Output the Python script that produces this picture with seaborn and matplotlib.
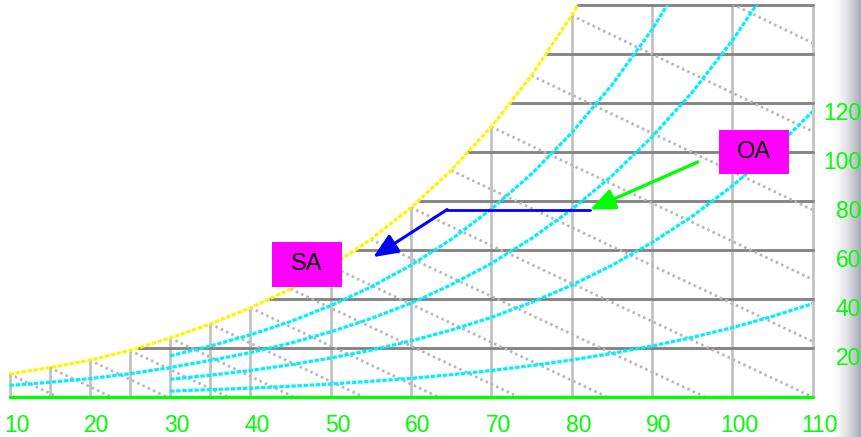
import numpy as np
import pandas as pd
import matplotlib
matplotlib.use("Agg")
import matplotlib.pyplot as plt
import matplotlib.transforms as mtransforms
from matplotlib.patches import Rectangle
import seaborn as sns

# Psychrometric chart: dry-bulb temperature (deg F) vs humidity ratio (grains / lb dry air)

# Saturation curve
sat_T = [10, 15, 20, 25, 30, 35, 40, 45, 50, 55, 60, 65, 70, 75, 80, 85]
sat_W = [9.4, 12.0, 15.0, 19.0, 24.1, 29.8, 36.4, 44.1, 53.4, 64.3, 77.3, 92.5,
         110.3, 131.2, 155.7, 184.2]

# Relative humidity curves
rh_T = [30, 35, 40, 45, 50, 55, 60, 65, 70, 75, 80, 85, 90, 95, 100, 105, 110]
rh10_W = [2.4, 3.0, 3.6, 4.4, 5.3, 6.4, 7.6, 9.1, 10.8, 12.8, 15.1, 17.8, 20.8,
          24.3, 28.3, 32.9, 38.1]
rh30_W = [7.2, 8.9, 10.8, 13.2, 15.9, 19.1, 22.9, 27.3, 32.5, 38.6, 45.6, 53.7,
          63.0, 73.7, 86.1, 100.3, 116.5]
rh50_T = [10, 15, 20, 25, 30, 35, 40, 45, 50, 55, 60, 65, 70, 75, 80, 85, 90, 95,
          100, 105]
rh50_W = [4.7, 6.0, 7.5, 9.5, 12.0, 14.9, 18.1, 22.0, 26.6, 32.0, 38.3, 45.8,
          54.5, 64.7, 76.5, 90.2, 106.1, 124.3, 145.4, 169.6]
rh70_T = [30, 35, 40, 45, 50, 55, 60, 65, 70, 75, 80, 85, 90, 95]
rh70_W = [16.8, 20.8, 25.4, 30.8, 37.3, 44.9, 53.8, 64.3, 76.7, 91.0, 107.8,
          127.3, 149.9, 176.2]

# Constant wet-bulb lines: start on saturation, end on the chart border
wb_T = [10, 15, 20, 25, 30, 35, 40, 45, 50, 55, 60, 65, 70, 75, 80, 85]
wb_end_T = [16.0, 22.7, 29.6, 37.2, 45.4, 54.1, 63.4, 73.4, 84.4, 96.6, 110,
            110, 110, 110, 110, 110]
wb_end_W = [0, 0, 0, 0, 0, 0, 0, 0, 0, 0, 0, 22.7, 48.0, 76.4, 108.4, 144.5]

# Grid: dry-bulb verticals (up to saturation) and humidity-ratio horizontals
vgrid_T = [10, 15, 20, 25, 30, 35, 40, 50, 60, 70, 80, 90, 100, 110]
vgrid_top = [9.4, 12.0, 15.0, 19.0, 24.1, 29.8, 36.4, 53.4, 77.3, 110.3, 155.7,
             160, 160, 160]
hgrid_W = [20, 40, 60, 80, 100, 120, 140, 160]
hgrid_start = [25.9, 42.4, 53.1, 61.0, 67.1, 72.4, 76.8, 80.8]

x_ticks = [10, 20, 30, 40, 50, 60, 70, 80, 90, 100, 110]
y_ticks = [20, 40, 60, 80, 100, 120]

# Air-handling process: outside air -> cooled -> supply air
proc_T = [82.3, 64.5, 55.3]
proc_W = [76.5, 76.5, 57.1]
oa_label = (102.7, 100.0)
sa_label = (47.05, 54.1)
oa_arrow_from = (95.7, 95.9)

T_MIN, T_MAX, W_MAX = 10, 110, 160

sns.set_style("white")
plt.rcParams["font.family"] = ["Liberation Sans", "DejaVu Sans"]

fig = plt.figure(figsize=(8.62, 4.37), dpi=100)

# shaded panel edge on the right
edge = fig.add_axes([832 / 862, 0, 30 / 862, 1], zorder=-5)
t = np.linspace(0, 1, 200) ** 1.6
white = np.array([1.0, 1.0, 1.0])
grey = np.array([0.64, 0.64, 0.70])
ramp = white[None, :] * (1 - t[:, None]) + grey[None, :] * t[:, None]
edge.imshow(ramp[None, :, :], aspect="auto", extent=(0, 1, 0, 1))
edge.set_axis_off()

ax = fig.add_axes([9.5 / 862, 40 / 437, 803 / 862, 392 / 437])
ax.set_facecolor("none")


def segments(starts, ends):
    rows = []
    for i, (a, b) in enumerate(zip(starts, ends)):
        rows.append({"id": i, "T": a[0], "W": a[1]})
        rows.append({"id": i, "T": b[0], "W": b[1]})
    return pd.DataFrame(rows)


# vertical dry-bulb lines
vdf = segments([(tv, 0) for tv in vgrid_T], list(zip(vgrid_T, vgrid_top)))
sns.lineplot(data=vdf, x="T", y="W", units="id", estimator=None, sort=False,
             color="#c0c0c0", lw=1.9, ax=ax, legend=False, clip_on=False)

# horizontal humidity-ratio lines
hdf = segments(list(zip(hgrid_start, hgrid_W)), [(T_MAX, w) for w in hgrid_W])
sns.lineplot(data=hdf, x="T", y="W", units="id", estimator=None, sort=False,
             color="#858585", lw=2.1, ax=ax, legend=False, clip_on=False)

# wet-bulb lines
wdf = segments(list(zip(wb_T, sat_W)), list(zip(wb_end_T, wb_end_W)))
sns.lineplot(data=wdf, x="T", y="W", units="id", estimator=None, sort=False,
             color="#b8b8b8", lw=2.0, linestyle=(0, (0.9, 1.2)), ax=ax,
             legend=False)

# relative humidity curves
rh_frames = []
for name, tt, ww in [("10%", rh_T, rh10_W), ("30%", rh_T, rh30_W),
                     ("50%", rh50_T, rh50_W), ("70%", rh70_T, rh70_W)]:
    rh_frames.append(pd.DataFrame({"T": tt, "W": ww, "rh": name}))
rhdf = pd.concat(rh_frames, ignore_index=True)
sns.lineplot(data=rhdf, x="T", y="W", units="rh", estimator=None, sort=False,
             color="#00f0ff", lw=2.3, linestyle=(0, (1.4, 0.5)), ax=ax,
             legend=False)

# saturation curve
sns.lineplot(x=sat_T, y=sat_W, sort=False, color="#f8f800", lw=2.3,
             linestyle=(0, (1.4, 0.5)), ax=ax)

# zero humidity base line
sns.lineplot(x=[T_MIN, T_MAX], y=[0, 0], color="#00ff00", lw=2.4, ax=ax,
             clip_on=False)

# process line with arrow to supply air
sns.lineplot(x=proc_T[:2], y=proc_W[:2], sort=False, color="#0000ff", lw=2.0,
             ax=ax, zorder=6)
ax.annotate("", xy=(proc_T[2], proc_W[2]), xytext=(proc_T[1], proc_W[1]),
            arrowprops=dict(arrowstyle="-|>,head_length=0.75,head_width=0.32",
                            color="#0000ff", lw=2.2, shrinkA=0, shrinkB=0,
                            mutation_scale=20), zorder=6)
ax.annotate("", xy=(proc_T[0], proc_W[0]), xytext=oa_arrow_from,
            arrowprops=dict(arrowstyle="-|>,head_length=0.75,head_width=0.32",
                            color="#00ff00", lw=2.4, shrinkA=0, shrinkB=0,
                            mutation_scale=20), zorder=6)

# state point labels
box_w, box_h = 8.8, 18.2
for text, (cx, cy) in [("OA", oa_label), ("SA", sa_label)]:
    ax.add_patch(Rectangle((cx - box_w / 2, cy - box_h / 2), box_w, box_h,
                           facecolor="#ff00ff", edgecolor="none", zorder=7))
    ax.text(cx, cy, text, ha="center", va="center", fontsize=17, color="black",
            zorder=8)

ax.set_xlim(T_MIN, T_MAX)
ax.set_ylim(0, W_MAX)
for s in ax.spines.values():
    s.set_visible(False)
ax.set_xlabel("")
ax.set_ylabel("")

ax.set_xticks(x_ticks)
ax.set_xticklabels([str(v) for v in x_ticks])
ax.yaxis.tick_right()
ax.set_yticks(y_ticks)
ax.set_yticklabels([str(v) for v in y_ticks])
ax.tick_params(axis="x", length=0, pad=12, labelsize=16.5, labelcolor="#00ff00")
ax.tick_params(axis="y", length=0, pad=35, labelsize=16.5, labelcolor="#00ff00")

shift_x = mtransforms.ScaledTranslation(7 / 100, 0, fig.dpi_scale_trans)
for lab in ax.get_xticklabels():
    lab.set_transform(lab.get_transform() + shift_x)
shift_y = mtransforms.ScaledTranslation(0, -8 / 100, fig.dpi_scale_trans)
for lab in ax.get_yticklabels():
    lab.set_horizontalalignment("right")
    lab.set_transform(lab.get_transform() + shift_y)

fig.savefig("out.png", dpi=100)
